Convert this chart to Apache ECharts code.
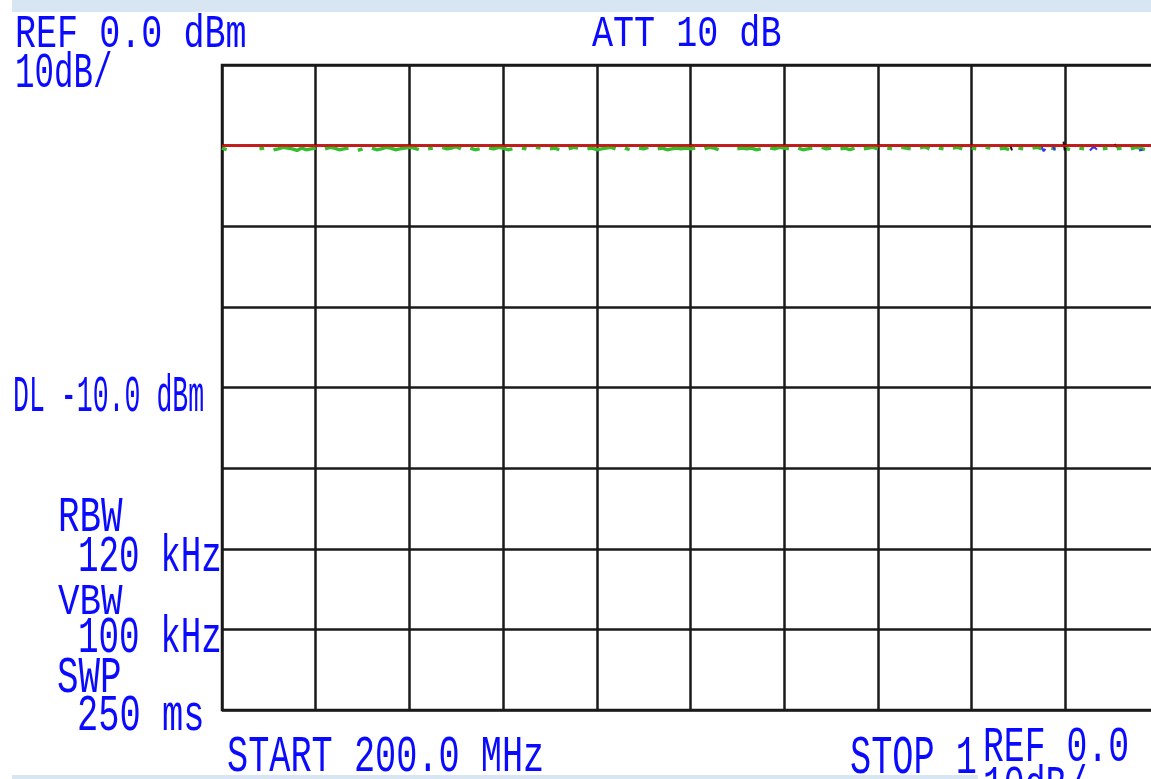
<!DOCTYPE html>
<html>
<head>
<meta charset="utf-8">
<script src="https://cdn.jsdelivr.net/npm/echarts@6/dist/echarts.min.js"></script>
<style>
html,body{margin:0;padding:0;background:#fff;}
#c{width:1151px;height:779px;}
</style>
</head>
<body>
<div id="c"></div>
<script>
// ---- axis setup (spectrum analyzer) ----
const startFreqMHz = 200;
const stopFreqMHz = 1000;
const freqPerDiv = 80;
const refLevel = 0;
const dbPerDiv = 10;
const bottomLevel = -80;
const displayLineLevel = -10;

// ---- green trace (dBm), sampled every 4 MHz from 200 MHz; null = gap ----
const sampleStepMHz = 4;
const greenTrace = [
  -10.3,-10.5,null,-10.2,null,-10.3,null,null,-10.4,-10.3,null,-10.5,-10.4,-10.2,-10.3,-10.4,-10.6,-10.3,-10.5,-10.4,
  -10.3,null,-10.4,-10.2,-10.3,-10.5,-10.4,-10.3,null,-10.6,-10.4,null,-10.3,-10.5,-10.4,-10.2,-10.3,-10.5,-10.4,-10.3,
  -10.2,-10.3,-10.5,null,-10.4,-10.3,null,-10.2,-10.4,-10.3,-10.1,-10.4,null,-10.3,-10.5,-10.4,null,-10.3,-10.4,-10.2,
  -10.3,-10.5,-10.4,null,-10.3,-10.4,null,-10.2,-10.3,null,-10.4,-10.3,-10.5,null,-10.4,-10.2,-10.3,null,-10.4,-10.3,
  -10.5,-10.4,-10.3,-10.2,-10.4,null,-10.3,-10.5,null,-10.3,-10.4,-10.2,null,-10.4,-10.3,-10.5,-10.4,-10.3,-10.4,-10.3,
  -10.4,-10.3,null,-10.4,-10.2,-10.3,-10.5,null,-10.3,null,-10.4,-10.3,-10.4,-10.3,-10.5,-10.4,null,-10.3,-10.4,-10.2,
  -10.3,-10.4,null,-10.3,-10.5,-10.4,-10.3,null,-10.2,-10.4,-10.3,null,-10.4,-10.3,-10.5,-10.3,null,-10.4,-10.3,-10.2,
  -10.4,null,-10.3,-10.4,null,-10.2,-10.3,-10.4,null,-10.3,-10.1,-10.4,null,-10.3,-10.4,null,-10.3,-10.2,-10.4,null,
  -10.3,-10.4,null,-10.2,-10.3,null,-10.4,-10.3,-10.5,null,-10.3,-10.4,null,-10.3,-10.2,-10.4,null,-10.3,-10.4,null,
  -10.3,-10.5,null,-10.3,-10.4,null,-10.2,null,-10.4,-10.3,null,-10.4,-10.3,null,-10.4,-10.2,-10.3,-10.5,null,-10.4
];

// ---- black & blue trace fragments near the upper end ----
const blackFreqs = [873, 874.5, null, 918.5, 919.5, 920.5, null, 962, 964];
const blackLevels = [-10.0, -10.6, null, -9.5, -10.6, -10.3, null, -9.8, -10.2];
const blueFreqs = [900, 901.5, 903, null, 909, 911, null, 941, 943, 945, 947, null, 983, 986];
const blueLevels = [-10.2, -10.7, -10.4, null, -9.9, -10.6, null, -10.6, -10.3, -10.2, -10.5, null, -10.6, -10.5];

// ---- annotation texts ----
const txtRef = 'REF 0.0 dBm';
const txtScale = '10dB/';
const txtAtt = 'ATT 10 dB';
const txtDL = 'DL -10.0 dBm';
const txtRBW = ['RBW', '120 kHz'];
const txtVBW = ['VBW', '100 kHz'];
const txtSWP = ['SWP', '250 ms'];
const txtStart = 'START 200.0 MHz';
const txtStop = 'STOP 1';
const txtRef2 = 'REF 0.0';
const txtScale2 = '10dB/';

const greenData = greenTrace.map((v, i) => [startFreqMHz + i * sampleStepMHz, v]);
const pair = (xs, ys) => xs.map((x, i) => (x === null ? [null, null] : [x, ys[i]]));
const blackData = pair(blackFreqs, blackLevels);
const blueData = pair(blueFreqs, blueLevels);
const dlData = [[startFreqMHz, displayLineLevel], [stopFreqMHz, displayLineLevel]];

const BLUE = '#0a0aff';
const FONT = '"Liberation Mono", "DejaVu Sans Mono", monospace';
// text helper: x = left of first glyph, cy = vertical centre of caps, pitch = char spacing, h = cap height
function label(text, x, cy, pitch, h) {
  const fs = 36;
  return {
    type: 'text', x: x, y: cy + 2,
    scaleX: pitch / (0.61 * fs), scaleY: h / (0.67 * fs),
    z: 100,
    style: { text: text, fill: BLUE, font: fs + 'px ' + FONT, align: 'left', verticalAlign: 'middle' },
    silent: true
  };
}

const chart = echarts.init(document.getElementById('c'), null, { renderer: 'canvas' });
chart.setOption({
  animation: false,
  backgroundColor: '#ffffff',
  grid: {
    left: 222, top: 65, right: -8, bottom: 69,
    show: true, borderColor: '#1a1a1a', borderWidth: 2.5,
    containLabel: false, outerBoundsMode: 'none'
  },
  xAxis: {
    type: 'value', min: startFreqMHz, max: stopFreqMHz, interval: freqPerDiv,
    axisLine: { show: false }, axisTick: { show: false }, axisLabel: { show: false },
    splitLine: { show: true, lineStyle: { color: '#1a1a1a', width: 2.5 } }
  },
  yAxis: {
    type: 'value', min: bottomLevel, max: refLevel, interval: dbPerDiv,
    axisLine: { show: false }, axisTick: { show: false }, axisLabel: { show: false },
    splitLine: { show: true, lineStyle: { color: '#1a1a1a', width: 2.5 } }
  },
  series: [
    { type: 'line', data: greenData, showSymbol: false, connectNulls: false, z: 3,
      lineStyle: { color: '#2fbf2f', width: 3.5 } },
    { type: 'line', data: blackData, showSymbol: false, connectNulls: false, z: 4,
      lineStyle: { color: '#111111', width: 2 } },
    { type: 'line', data: blueData, showSymbol: false, connectNulls: false, z: 4,
      lineStyle: { color: '#3030ff', width: 2 } },
    { type: 'line', data: dlData, showSymbol: false, z: 5,
      lineStyle: { color: '#ff0000', width: 2 } }
  ],
  graphic: [
    { type: 'rect', shape: { x: 12, y: 0, width: 1139, height: 12 }, style: { fill: '#d8e6f3' }, silent: true, z: 50 },
    { type: 'rect', shape: { x: 12, y: 775, width: 968, height: 4 }, style: { fill: '#d8e6f3' }, silent: true, z: 50 },
    label(txtRef, 15, 32.5, 21.4, 31),
    label(txtScale, 15, 71.5, 19.8, 33),
    label(txtAtt, 592, 32, 21.4, 30),
    label(txtDL, 13, 395, 16.2, 35),
    label(txtRBW[0], 58, 516, 21.9, 33),
    label(txtRBW[1], 78, 555, 20.9, 35),
    label(txtVBW[0], 58, 600, 21.9, 30),
    label(txtVBW[1], 78, 636, 20.9, 35),
    label(txtSWP[0], 57, 676, 21.9, 35),
    label(txtSWP[1], 77, 714, 21.6, 35),
    label(txtStart, 227, 755, 21.5, 35),
    label(txtStop, 850, 757, 21.5, 36),
    { type: 'rect', shape: { x: 978, y: 722, width: 173, height: 57 }, style: { fill: '#ffffff' }, silent: true, z: 90 },
    label(txtRef2, 983, 746, 21.2, 34),
    label(txtScale2, 983, 785, 21.2, 34)
  ]
});
</script>
</body>
</html>
